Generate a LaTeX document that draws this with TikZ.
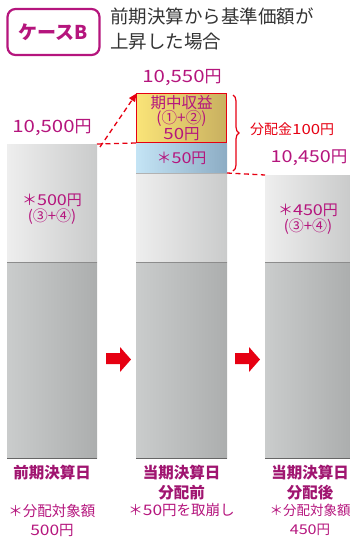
\documentclass[tikz,border=0pt]{standalone}
\usepackage{fontspec}
\setmainfont{Noto Sans CJK JP}
\newfontfamily\numf[FakeStretch=1.2]{Noto Sans CJK JP}
\usetikzlibrary{decorations.pathreplacing,arrows.meta}
\definecolor{mag}{HTML}{B5157D}
\definecolor{bmag}{HTML}{A01570}
\definecolor{cred}{HTML}{E60012}
\definecolor{tgray}{HTML}{333333}
\definecolor{up1}{HTML}{EEEEEE}
\definecolor{up2}{HTML}{FFFFFF}
\definecolor{up3}{HTML}{CACBCB}
\definecolor{lo1}{HTML}{CACCCC}
\definecolor{lo2}{HTML}{DEE0E0}
\definecolor{lo3}{HTML}{ACAEAE}
\tikzset{
  upperbar/.style={inner sep=0pt, outer sep=0pt, shade, left color=up1, middle color=up2, right color=up3},
  lowerbar/.style={inner sep=0pt, outer sep=0pt, shade, left color=lo1, middle color=lo2, right color=lo3},
  yellowbar/.style={inner sep=0pt, outer sep=0pt, shade, left color={rgb,255:red,250;green,228;blue,120}, right color={rgb,255:red,200;green,176;blue,96}, draw=cred, line width=1.6pt},
  bluebar/.style={inner sep=0pt, outer sep=0pt, shade, left color={rgb,255:red,196;green,228;blue,245}, right color={rgb,255:red,140;green,172;blue,196}},
  valtxt/.style={text=mag, font=\fontsize{17}{19}\selectfont, inner sep=0pt},
  intxt/.style={text=mag, font=\fontsize{15}{15.5}\selectfont, align=center, inner sep=0pt},
  bottxt/.style={text=bmag, font=\bfseries\fontsize{15.5}{20}\selectfont, align=center, inner sep=0pt},
  notetxt/.style={text=mag, font=\fontsize{14.5}{19}\selectfont, align=center, inner sep=0pt},
  reddash/.style={draw=cred, line width=1.3pt, dash pattern=on 5pt off 3.5pt},
}
\begin{document}
\begin{tikzpicture}[x=1pt,y=-1pt]
\useasboundingbox (0,0) rectangle (350,541);
% header
\node[draw=mag, line width=2.2pt, rounded corners=8pt, minimum width=92pt, minimum height=46pt, inner sep=0pt, text=mag, font=\bfseries\fontsize{19}{20}\selectfont] (case) at (53.5,32) {ケースB};
\node[text=tgray, font=\fontsize{18.5}{25}\selectfont, align=left, anchor=north west, inner sep=0pt] (title) at (110,8) {前期決算から基準価額が\\上昇した場合};
% left column
\node[upperbar, minimum width=90pt, minimum height=118pt] (lu) at (52,203) {};
\node[lowerbar, minimum width=90pt, minimum height=196pt] (ll) at (52,360) {};
% middle column
\node[bluebar, minimum width=91pt, minimum height=30pt] (mb) at (181.5,158) {};
\node[yellowbar, minimum width=90pt, minimum height=49pt] (my) at (181.5,118) {};
\node[upperbar, minimum width=91pt, minimum height=89pt] (mu) at (181.5,217.5) {};
\node[lowerbar, minimum width=91pt, minimum height=196pt] (ml) at (181.5,360) {};
% right column
\node[upperbar, minimum width=85pt, minimum height=87pt] (ru) at (307.5,218.5) {};
\node[lowerbar, minimum width=85pt, minimum height=196pt] (rl) at (307.5,360) {};
% separator lines
\foreach \n in {ll,ml,rl}{
  \draw[black!45, line width=0.7pt] (\n.north west) -- (\n.north east);
  \draw[black!60, line width=0.8pt] (\n.south west) -- (\n.south east);
}
\draw[black!30, line width=0.6pt] (mb.south west) -- (mb.south east);
% texts in bars
\node[intxt, font=\fontsize{15.5}{15}\selectfont] (ytxt) at (my.center) {期中収益\\(①+②)\\{\numf 50}円};
\node[intxt] (btxt) at (mb.center) {＊{\numf 50}円};
\node[intxt] (ltxt) at (52,209) {＊{\numf 500}円\\(③+④)};
\node[intxt] (rtxt) at (308,219) {＊{\numf 450}円\\(③+④)};
% values
\node[valtxt] (v1) at (182,78) {{\numf 10,550}円};
\node[valtxt] (v2) at (52,128) {{\numf 10,500}円};
\node[valtxt, font=\fontsize{16.5}{19}\selectfont] (v3) at (309,158) {{\numf 10,450}円};
% dashed lines
\draw[reddash] (lu.north east) -- (mb.north west);
\draw[reddash, -{Triangle[length=8pt,width=7pt]}] ([xshift=3pt,yshift=-3pt]lu.north east) -- (my.north west);
\draw[reddash] (mb.south east) -- (ru.north west);
% brace
\draw[cred, line width=1.2pt, decorate, decoration={brace, amplitude=6pt}] (233,95) -- (233,171) coordinate[midway] (bm);
\node[text=cred, font=\fontsize{14}{15}\selectfont, anchor=west, inner sep=0pt] (bl) at (250,129) {分配金{\numf 100}円};
% red arrows
\fill[cred] (106,353) -- (120,353) -- (120,347) -- (131,359.5) -- (120,372) -- (120,364) -- (106,364) -- cycle;
\fill[cred] (235,353) -- (249,353) -- (249,347) -- (260,359.5) -- (249,372) -- (249,364) -- (235,364) -- cycle;
% bottom labels
\node[bottxt] (b1) at (52,473) {前期決算日};
\node[bottxt] (b2) at (181.5,483) {当期決算日\\分配前};
\node[bottxt] (b3) at (310,483) {当期決算日\\分配後};
\node[notetxt] (n1) at (52,520) {＊分配対象額\\{\numf 500}円};
\node[notetxt] (n2) at (181.5,510) {＊{\numf 50}円を取崩し};
\node[notetxt, font=\fontsize{13.5}{19}\selectfont] (n3) at (310,520) {＊分配対象額\\{\numf 450}円};
\end{tikzpicture}
\end{document}
